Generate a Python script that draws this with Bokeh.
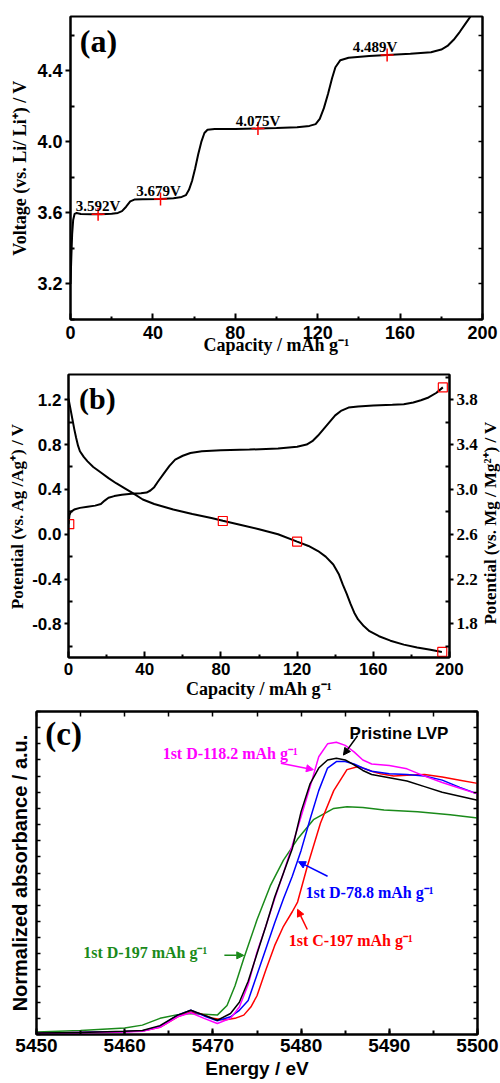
import math
from bokeh.plotting import figure
from bokeh.models import (LinearAxis, Range1d, FixedTicker, SingleIntervalTicker,
                          Label, Arrow, NormalHead, NumeralTickFormatter)
from bokeh.layouts import column, row
from bokeh.core.properties import value
from bokeh.embed import file_html
from bokeh.resources import INLINE

SERIF = "Liberation Serif"
SANS = "Liberation Sans"

# ---------------- panel (a) data ----------------
cap_a = [0, 0.4, 0.8, 1.3, 2.0, 3, 5, 10, 15, 20, 23, 25, 27, 29, 31, 35, 43.7, 50, 54, 56,
         57.5, 59, 60.5, 62, 63.5, 65, 66.5, 70, 80, 91, 100, 110, 116, 119, 121, 123, 125,
         127, 128.6, 131, 135, 145, 153.7, 165, 175, 180, 183, 186, 189, 192, 195, 197]
volt_a = [3.2, 3.35, 3.48, 3.56, 3.595, 3.6, 3.594, 3.592, 3.592, 3.595, 3.6, 3.61, 3.635,
          3.665, 3.675, 3.677, 3.679, 3.683, 3.69, 3.70, 3.73, 3.78, 3.85, 3.93, 4.0, 4.05,
          4.068, 4.072, 4.073, 4.075, 4.078, 4.083, 4.09, 4.1, 4.13, 4.19, 4.27, 4.36, 4.42,
          4.46, 4.474, 4.483, 4.489, 4.496, 4.505, 4.52, 4.54, 4.575, 4.62, 4.67, 4.72, 4.75]
mark_cap_a = [13.4, 43.7, 91.0, 153.7]
mark_volt_a = [3.592, 3.679, 4.075, 4.489]
mark_text_a = ["3.592V", "3.679V", "4.075V", "4.489V"]
text_dx_a = [0, -2, 0, -12]

# ---------------- panel (b) data ----------------
cap_b_dis = [0, 1, 2, 3, 4, 5, 6, 8, 10, 13, 17, 21, 25, 30, 34, 39, 45, 55, 65, 75, 81, 90,
             100, 110, 120, 126, 131, 135, 139, 142, 144, 146, 148, 150, 152, 155, 158, 163,
             169, 176, 183, 190, 196]
pot_b_dis = [1.21, 1.12, 1.03, 0.94, 0.86, 0.79, 0.74, 0.69, 0.65, 0.6, 0.55, 0.5, 0.455,
             0.405, 0.365, 0.31, 0.27, 0.22, 0.18, 0.145, 0.12, 0.085, 0.045, 0.0, -0.066,
             -0.105, -0.15, -0.2, -0.27, -0.36, -0.45, -0.53, -0.62, -0.7, -0.76, -0.82,
             -0.865, -0.91, -0.95, -0.985, -1.01, -1.03, -1.05]
cap_b_chg = [0, 0.5, 1.2, 3, 6, 10, 14, 17, 19, 21, 24, 28, 33, 38, 41, 43, 45, 47, 50, 53,
             56, 60, 64, 70, 80, 95, 110, 120, 125, 128, 131, 134, 137, 140, 143, 147, 152,
             160, 170, 176, 181, 185, 189, 193, 196.5]
pot_b_chg = [0.09, 0.17, 0.2, 0.22, 0.235, 0.245, 0.255, 0.27, 0.3, 0.325, 0.34, 0.352, 0.36,
             0.365, 0.372, 0.39, 0.42, 0.47, 0.54, 0.61, 0.665, 0.7, 0.725, 0.74, 0.75, 0.755,
             0.765, 0.78, 0.8, 0.83, 0.88, 0.94, 1.0, 1.06, 1.1, 1.13, 1.14, 1.148, 1.155,
             1.16, 1.175, 1.195, 1.22, 1.26, 1.31]
mark_cap_b = [0.4, 81, 120, 196.2, 196.5]
mark_pot_b = [0.09, 0.118, -0.066, -1.05, 1.31]

# ---------------- panel (c) data ----------------
e_black = [5450, 5455, 5460, 5462, 5464, 5466, 5467.5, 5469, 5470.5, 5472, 5473, 5474, 5475,
           5476, 5477, 5478, 5479, 5480, 5481, 5482, 5483, 5484, 5485, 5486, 5487, 5488,
           5490, 5492, 5494, 5496, 5498, 5500]
a_black = [0.01, 0.012, 0.02, 0.025, 0.055, 0.12, 0.15, 0.12, 0.088, 0.13, 0.2, 0.33, 0.5,
           0.67, 0.85, 1.0, 1.15, 1.38, 1.55, 1.65, 1.70, 1.71, 1.70, 1.67, 1.635, 1.61,
           1.59, 1.57, 1.535, 1.5, 1.475, 1.45]
e_magenta = [5450, 5455, 5460, 5462, 5464, 5466, 5467.5, 5469, 5470.5, 5472, 5473, 5474,
             5475, 5476, 5477, 5478, 5479, 5480, 5481, 5482, 5483, 5484, 5485, 5486, 5487,
             5488, 5490, 5492, 5494, 5496, 5498, 5500]
a_magenta = [0.008, 0.01, 0.015, 0.02, 0.045, 0.11, 0.135, 0.1, 0.068, 0.1, 0.17, 0.31,
             0.51, 0.67, 0.84, 1.0, 1.17, 1.35, 1.53, 1.72, 1.80, 1.81, 1.79, 1.75, 1.70,
             1.675, 1.665, 1.645, 1.6, 1.56, 1.525, 1.49]
e_blue = [5450, 5460, 5462, 5464, 5466, 5467.5, 5469, 5470.5, 5472, 5473, 5474, 5475, 5476,
          5477, 5478, 5479, 5480, 5481, 5482, 5483, 5484, 5485, 5486, 5487, 5488, 5490, 5492,
          5494, 5496, 5498, 5500]
a_blue = [0.008, 0.018, 0.022, 0.05, 0.12, 0.15, 0.115, 0.085, 0.11, 0.15, 0.21, 0.37, 0.53,
          0.69, 0.84, 0.98, 1.14, 1.33, 1.51, 1.65, 1.69, 1.69, 1.675, 1.65, 1.63, 1.615,
          1.61, 1.6, 1.575, 1.53, 1.49]
e_red = [5450, 5460, 5462, 5464, 5466, 5467.5, 5468.5, 5470, 5471.3, 5472.5, 5473.5, 5474.3,
         5475, 5476, 5477, 5478, 5479, 5479.6, 5480.7, 5482.2, 5483.7, 5485.2, 5486.5, 5488,
         5489, 5490.5, 5492, 5494, 5496, 5498, 5500]
a_red = [0.008, 0.018, 0.022, 0.045, 0.11, 0.14, 0.13, 0.1, 0.09, 0.1, 0.12, 0.17, 0.24,
         0.40, 0.55, 0.67, 0.76, 0.82, 1.04, 1.31, 1.51, 1.64, 1.66, 1.63, 1.615, 1.6,
         1.605, 1.61, 1.595, 1.575, 1.555]
e_green = [5450, 5455, 5460, 5462, 5464, 5466, 5467.5, 5469, 5470.5, 5471.6, 5472.5, 5473.5,
           5475, 5476, 5476.5, 5478, 5479.6, 5481.4, 5483.7, 5485.2, 5487, 5489.4, 5493.2,
           5496.9, 5500]
a_green = [0.015, 0.025, 0.04, 0.058, 0.1, 0.123, 0.13, 0.125, 0.12, 0.18, 0.3, 0.47, 0.71,
           0.85, 0.92, 1.08, 1.21, 1.33, 1.40, 1.41, 1.405, 1.39, 1.38, 1.36, 1.34]

a_ticks = [0, 40, 80, 120, 160, 200]
a_minor = [20, 60, 100, 140, 180]
GREEN = "#1a8a1a"


def base_style(p):
    p.xgrid.visible = False
    p.ygrid.visible = False
    p.outline_line_color = "black"
    p.outline_line_width = 2
    p.outline_line_alpha = 1
    p.background_fill_color = "white"
    p.border_fill_color = "white"
    try:
        p.frame_align = False
    except Exception:
        pass


def style_axis(ax, font, size, label_font, label_size):
    ax.axis_line_width = 2
    ax.axis_line_color = "black"
    ax.major_tick_line_width = 2
    ax.minor_tick_line_width = 2
    ax.major_tick_line_color = "black"
    ax.minor_tick_line_color = "black"
    ax.major_label_text_font = font
    ax.major_label_text_font_size = size
    ax.major_label_text_font_style = "bold"
    ax.major_label_text_color = "black"
    ax.axis_label_text_font = label_font
    ax.axis_label_text_font_size = label_size
    ax.axis_label_text_font_style = "bold"
    ax.axis_label_text_color = "black"


def tick_only(ax, positions, tick_in):
    # ticks drawn as (unlabelled) minor ticks only
    ax.ticker = FixedTicker(ticks=[], minor_ticks=positions)
    ax.major_label_standoff = 0
    ax.major_tick_in = 0
    ax.major_tick_out = 0
    ax.minor_tick_in = tick_in
    ax.minor_tick_out = 0
    ax.axis_line_width = 2
    ax.axis_line_color = "black"
    ax.minor_tick_line_width = 1.5
    ax.minor_tick_line_color = "black"
    return ax


# ================= figure (a) =================
fa = figure(width=500, height=357, x_range=Range1d(0, 200), y_range=Range1d(3.0, 4.706),
            output_backend="svg", toolbar_location=None,
            min_border_left=70, min_border_right=18, min_border_top=16, min_border_bottom=35)
base_style(fa)
xa = fa.xaxis[0]
style_axis(xa, SANS, "18px", SERIF, "18px")
xa.ticker = FixedTicker(ticks=a_ticks, minor_ticks=a_minor)
xa.major_tick_in = 6
xa.major_tick_out = 0
xa.minor_tick_in = 3
xa.minor_tick_out = 0
xa.major_label_standoff = 6
xa.axis_label_standoff = -7
xa.axis_label = "Capacity / mAh g\u207b\u00b9"
ya = fa.yaxis[0]
style_axis(ya, SANS, "18px", SERIF, "18px")
ya.ticker = FixedTicker(ticks=[3.2, 3.6, 4.0, 4.4], minor_ticks=[3.0, 3.4, 3.8, 4.2, 4.6])
ya.formatter = NumeralTickFormatter(format="0.0")
ya.major_tick_in = 0
ya.major_tick_out = 5
ya.minor_tick_in = 4
ya.minor_tick_out = 0
ya.major_label_standoff = 3
ya.axis_label_standoff = 4
ya.axis_label = "Voltage (vs. Li/ Li\u207a) / V"
fa.add_layout(tick_only(LinearAxis(), [3.0, 3.2, 3.4, 3.6, 3.8, 4.0, 4.2, 4.4, 4.6], 4),
              "right")

fa.line(cap_a, volt_a, line_width=2, line_color="black")
fa.scatter(mark_cap_a, mark_volt_a, marker="cross", size=13, line_color="red", line_width=1.5)
fa.text(x=mark_cap_a, y=mark_volt_a, text=mark_text_a, x_offset=text_dx_a, y_offset=-8,
        text_font=value(SERIF), text_font_style="bold", text_font_size="15px",
        text_align="center", text_baseline="alphabetic", text_color="black")
fa.add_layout(Label(x=4.5, y=4.67, text="(a)",
                    text_font=SERIF, text_font_style="bold", text_font_size="32px",
                    text_baseline="top", text_color="black"))

# ================= figure (b) =================
fb = figure(width=480, height=344, x_range=Range1d(0, 200), y_range=Range1d(-1.1, 1.425),
            output_backend="svg", toolbar_location=None,
            min_border_left=68, min_border_right=30, min_border_top=17, min_border_bottom=42)
base_style(fb)
fb.extra_y_ranges = {"mg": Range1d(1.5, 4.025)}
xb = fb.xaxis[0]
style_axis(xb, SANS, "17px", SERIF, "18px")
xb.ticker = FixedTicker(ticks=a_ticks, minor_ticks=a_minor)
xb.major_tick_in = 6
xb.major_tick_out = 0
xb.minor_tick_in = 3
xb.minor_tick_out = 0
xb.major_label_standoff = 5
xb.axis_label_standoff = 1
xb.axis_label = "Capacity / mAh g\u207b\u00b9"
yb = fb.yaxis[0]
style_axis(yb, SANS, "17px", SERIF, "17px")
yb.ticker = FixedTicker(ticks=[-0.8, -0.4, 0.0, 0.4, 0.8, 1.2],
                        minor_ticks=[-1.0, -0.6, -0.2, 0.2, 0.6, 1.0])
yb.formatter = NumeralTickFormatter(format="0.0")
yb.major_tick_in = 0
yb.major_tick_out = 4
yb.minor_tick_in = 4
yb.minor_tick_out = 0
yb.major_label_standoff = 3
yb.axis_label_standoff = 2
yb.axis_label = "Potential (vs. Ag /Ag\u207a) / V"
rb = LinearAxis(y_range_name="mg",
                ticker=FixedTicker(ticks=[1.8, 2.2, 2.6, 3.0, 3.4, 3.8],
                                   minor_ticks=[1.6, 2.0, 2.4, 2.8, 3.2, 3.6, 4.0]))
style_axis(rb, SERIF, "17px", SERIF, "17px")
rb.formatter = NumeralTickFormatter(format="0.0")
rb.major_tick_in = 0
rb.major_tick_out = 4
rb.minor_tick_in = 4
rb.minor_tick_out = 0
rb.major_label_standoff = 3
fb.add_layout(rb, "right")

fb.line(cap_b_dis, pot_b_dis, line_width=2, line_color="black")
fb.line(cap_b_chg, pot_b_chg, line_width=2, line_color="black")
fb.scatter(mark_cap_b, mark_pot_b, marker="square", size=9, fill_color=None,
           line_color="red", line_width=1.2)
fb.add_layout(Label(x=5.5, y=1.36, text="(b)",
                    text_font=SERIF, text_font_style="bold", text_font_size="30px",
                    text_baseline="top", text_color="black"))

# narrow strip carrying the right-hand axis title (reads bottom-to-top)
fbl = figure(width=20, height=344, x_range=Range1d(0, 20), y_range=Range1d(-1.1, 1.425),
             output_backend="svg", toolbar_location=None, x_axis_type=None,
             y_axis_type=None, min_border_left=0, min_border_right=0, min_border_top=17,
             min_border_bottom=42)
fbl.outline_line_color = None
fbl.border_fill_color = "white"
try:
    fbl.frame_align = False
except Exception:
    pass
fbl.text(x=[10], y=[0.11], text=["Potential (vs. Mg / Mg\u00b2\u207a) / V"],
         angle=math.pi / 2, text_font=value(SERIF), text_font_style="bold",
         text_font_size="17px", text_align="center", text_baseline="middle",
         text_color="black")

# ================= figure (c) =================
fc = figure(width=500, height=380, x_range=Range1d(5450, 5500), y_range=Range1d(0, 2.0),
            output_backend="svg", toolbar_location=None,
            min_border_left=36, min_border_right=23, min_border_top=10, min_border_bottom=45)
base_style(fc)
xc = fc.xaxis[0]
style_axis(xc, SANS, "19px", SANS, "19px")
xc.ticker = SingleIntervalTicker(interval=10, num_minor_ticks=2)
xc.major_tick_in = 6
xc.major_tick_out = 0
xc.minor_tick_in = 4
xc.minor_tick_out = 0
xc.major_label_standoff = 4
xc.axis_label_standoff = 3
xc.axis_label = "Energy / eV"
c_yticks = [round(0.1 * k, 1) for k in range(21)]
c_xticks = [5450 + 5 * k for k in range(11)]
yc = fc.yaxis[0]
style_axis(yc, SANS, "17px", SANS, "20px")
tick_only(yc, c_yticks, 4)
yc.axis_label_standoff = 6
yc.axis_label = "Normalized absorbance / a.u."
fc.add_layout(tick_only(LinearAxis(), c_xticks, 5), "above")
fc.add_layout(tick_only(LinearAxis(), c_yticks, 4), "right")

fc.line(e_green, a_green, line_width=1.5, line_color=GREEN)
fc.line(e_red, a_red, line_width=1.5, line_color="red")
fc.line(e_blue, a_blue, line_width=1.5, line_color="blue")
fc.line(e_magenta, a_magenta, line_width=1.5, line_color="magenta")
fc.line(e_black, a_black, line_width=1.5, line_color="black")

fc.add_layout(Label(x=5451, y=1.97, text="(c)",
                    text_font=SERIF, text_font_style="bold", text_font_size="33px",
                    text_baseline="top", text_color="black"))


def note(p, x, y, txt, color, font, size, align="left"):
    p.add_layout(Label(x=x, y=y, text=txt, text_font=font, text_font_style="bold",
                       text_font_size=size, text_color=color, text_align=align,
                       text_baseline="middle"))


def arrow(p, x0, y0, x1, y1, color):
    p.add_layout(Arrow(x_start=x0, y_start=y0, x_end=x1, y_end=y1, line_color=color,
                       line_width=1.5,
                       end=NormalHead(size=7, fill_color=color, line_color=color)))


note(fc, 5491.1, 1.865, "Pristine LVP", "black", SANS, "17px", align="center")
arrow(fc, 5486.4, 1.85, 5484.8, 1.73, "black")
note(fc, 5464.3, 1.74, "1st D-118.2 mAh g\u207b\u00b9", "magenta", SERIF, "16px")
arrow(fc, 5477.7, 1.68, 5481.4, 1.64, "magenta")
note(fc, 5480.5, 0.88, "1st D-78.8 mAh g\u207b\u00b9", "blue", SERIF, "16px")
arrow(fc, 5483.0, 0.98, 5479.7, 1.07, "blue")
note(fc, 5478.6, 0.585, "1st C-197 mAh g\u207b\u00b9", "red", SERIF, "16px")
arrow(fc, 5480.7, 0.65, 5479.6, 0.775, "red")
note(fc, 5455.3, 0.51, "1st D-197 mAh g\u207b\u00b9", GREEN, SERIF, "16px")
arrow(fc, 5471.3, 0.49, 5473.5, 0.49, GREEN)

layout = column(fa, row(fb, fbl, spacing=0), fc, spacing=0)
open("out.html", "w").write(file_html(layout, INLINE))
